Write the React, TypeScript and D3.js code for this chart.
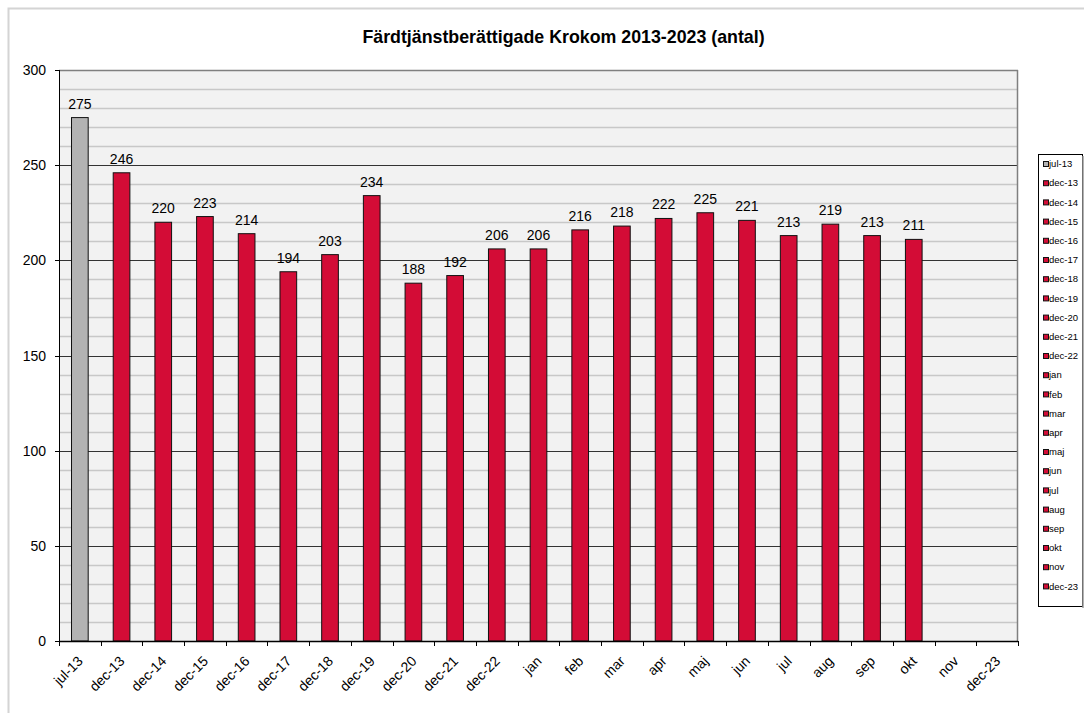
import React from "react";
import * as d3 from "d3";

const categories = ["jul-13","dec-13","dec-14","dec-15","dec-16","dec-17","dec-18","dec-19","dec-20","dec-21","dec-22","jan","feb","mar","apr","maj","jun","jul","aug","sep","okt","nov","dec-23"];
const values: (number | null)[] = [275,246,220,223,214,194,203,234,188,192,206,206,216,218,222,225,221,213,219,213,211,null,null];
const yTicks = [0,50,100,150,200,250,300];
const title = "Färdtjänstberättigade Krokom 2013-2023 (antal)";

const W = 1084, H = 713;
const plot = { left: 59, right: 1018, top: 70, bottom: 641 };
const RED = "#d30c36";
const GRAY = "#b3b3b3";
const FONT = "Arial, 'Liberation Sans', sans-serif";

export default function App() {
  const x = d3.scaleBand<string>().domain(categories).range([plot.left, plot.right]).paddingInner(0).paddingOuter(0);
  const y = d3.scaleLinear().domain([0, 300]).range([plot.bottom, plot.top]);
  const bw = x.bandwidth() * 0.4;
  const minor = d3.range(10, 300, 10).filter(v => v % 50 !== 0);
  const major = [50,100,150,200,250];
  const legendTop = 154, legendStep = 19.2;
  return (
    <svg width={W} height={H} style={{ position: "absolute", left: 0, top: 0 }} fontFamily={FONT}>
      <rect x={0} y={0} width={W} height={H} fill="#fff" />
      <rect x={8.5} y={8.5} width={W + 10} height={H + 10} fill="none" stroke="#d4d4d4" strokeWidth={2} />
      <text x={563.5} y={43} textAnchor="middle" fontWeight="bold" fontSize={17.8} fill="#000">{title}</text>
      <rect x={plot.left} y={plot.top} width={plot.right - plot.left} height={plot.bottom - plot.top} fill="#f2f2f2" />
      {minor.map(v => (
        <line key={"m" + v} x1={plot.left} x2={plot.right} y1={Math.round(y(v)) + 0.5} y2={Math.round(y(v)) + 0.5} stroke="#c8c8c8" strokeWidth={1.5} />
      ))}
      {major.map(v => (
        <line key={"M" + v} x1={plot.left} x2={plot.right} y1={Math.round(y(v)) + 0.5} y2={Math.round(y(v)) + 0.5} stroke="#333" strokeWidth={1} />
      ))}
      <line x1={plot.left} x2={plot.right} y1={plot.top + 0.5} y2={plot.top + 0.5} stroke="#808080" strokeWidth={1.5} />
      <line x1={plot.right - 0.5} x2={plot.right - 0.5} y1={plot.top} y2={plot.bottom} stroke="#808080" strokeWidth={1.5} />
      {categories.map((c, i) => {
        const v = values[i];
        if (v == null) return null;
        const cx = (x(c) as number) + x.bandwidth() / 2;
        return (
          <g key={c}>
            <rect x={cx - bw / 2} y={y(v)} width={bw} height={plot.bottom - y(v)} fill={i === 0 ? GRAY : RED} stroke="#111" strokeWidth={1} />
            <text x={cx} y={y(v) - 9} textAnchor="middle" fontSize={14} fill="#000">{v}</text>
          </g>
        );
      })}
      {/* y axis */}
      <line x1={plot.left + 0.5} x2={plot.left + 0.5} y1={plot.top} y2={plot.bottom} stroke="#000" />
      {yTicks.map(v => (
        <g key={"yt" + v}>
          <line x1={plot.left - 4} x2={plot.left} y1={Math.round(y(v)) + 0.5} y2={Math.round(y(v)) + 0.5} stroke="#000" />
          <text x={plot.left - 13} y={y(v) + 5} textAnchor="end" fontSize={14} fill="#000">{v}</text>
        </g>
      ))}
      {/* x axis */}
      <line x1={plot.left} x2={plot.right} y1={plot.bottom + 0.5} y2={plot.bottom + 0.5} stroke="#000" strokeWidth={1.5} />
      {categories.concat(["__end"]).map((c, i) => {
        const xx = i < categories.length ? (x(c) as number) : plot.right;
        return <line key={"xt" + i} x1={Math.round(xx) + 0.5} x2={Math.round(xx) + 0.5} y1={plot.bottom} y2={plot.bottom + 5} stroke="#000" />;
      })}
      {categories.map(c => {
        const cx = (x(c) as number) + x.bandwidth() / 2;
        return (
          <text key={"xl" + c} transform={`translate(${cx + 4},${plot.bottom + 21}) rotate(-45)`} textAnchor="end" fontSize={14} fill="#000">{c}</text>
        );
      })}
      {/* legend */}
      <rect x={1038.5} y={legendTop + 0.5} width={44} height={452} fill="#fff" stroke="#000" strokeWidth={1} />
      <line x1={1083} x2={1083} y1={legendTop + 2} y2={legendTop + 454} stroke="#999" strokeWidth={1.5} />
      {categories.map((c, i) => {
        const ly = legendTop + 10 + i * legendStep;
        return (
          <g key={"lg" + c}>
            <rect x={1043.5} y={ly - 2.5} width={5} height={5} fill={i === 0 ? GRAY : RED} stroke="#111" strokeWidth={1} />
            <text x={1049} y={ly + 3.2} fontSize={9.5} fill="#000">{c}</text>
          </g>
        );
      })}
    </svg>
  );
}
